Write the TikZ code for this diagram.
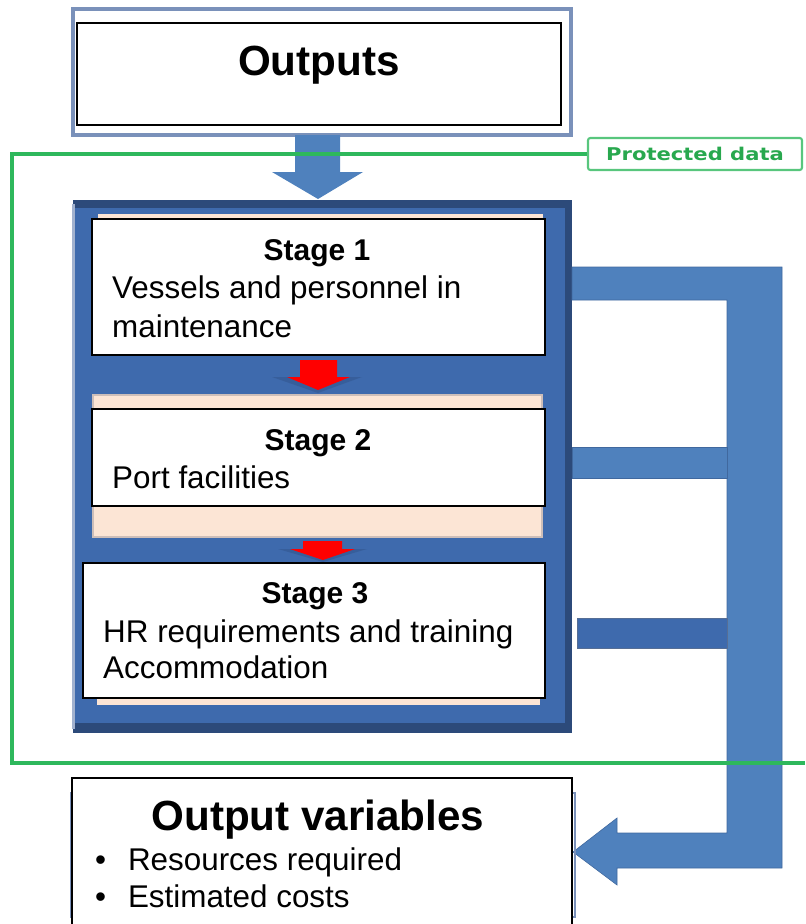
\documentclass[tikz,border=0pt]{standalone}
\usepackage{fontspec}
\setmainfont{Liberation Sans}
\newfontfamily\tagfont[FakeStretch=1.2]{DejaVu Sans}
\usetikzlibrary{positioning,fit,calc}
\definecolor{frameBlue}{RGB}{122, 145, 186}
\definecolor{boxBlue}{RGB}{62, 106, 173}
\definecolor{boxDark}{RGB}{44, 74, 122}
\definecolor{flowBlue}{RGB}{79, 129, 189}
\definecolor{flowEdge}{RGB}{64, 104, 158}
\definecolor{peach}{RGB}{252, 229, 213}
\definecolor{peachEdge}{RGB}{205, 190, 185}
\definecolor{protGreen}{RGB}{46, 184, 92}
\definecolor{protText}{RGB}{40, 168, 78}

\tikzset{
  frame/.style={draw=frameBlue, line width=3pt, fill=white, inner sep=0pt},
  stagebox/.style={draw=black, line width=1.3pt, fill=white, inner sep=0pt},
  bigtitle/.style={font=\fontsize{36}{40}\selectfont\bfseries, anchor=base, inner sep=0pt},
  stagetitle/.style={font=\fontsize{25.6}{30}\selectfont\bfseries, anchor=base, inner sep=0pt},
  stagetext/.style={font=\fontsize{26.8}{32}\selectfont, anchor=base west, inner sep=0pt},
  tagbox/.style={draw=protGreen!80, line width=1.8pt, fill=white, rounded corners=2pt, inner sep=0pt},
  flowbar/.style={fill=flowBlue, draw=flowEdge, line width=0.5pt},
  glow/.style={fill=boxDark, opacity=0.35},
}

\begin{document}
\begin{tikzpicture}[x=0.03cm, y=-0.03cm, line join=miter]
  \useasboundingbox (0,0) rectangle (805,924);

  % outputs box
  \node[frame, fit={(73,9) (571,135)}] (outframe) {};
  \node[stagebox, fit={(77,23) (561,125)}] (outputs) {};
  \node[bigtitle] (outtitle) at (319,75) {Outputs};

  % block arrow into the stages
  \fill[flowBlue] (295,135) -- (340,135) -- (340,172) -- (363,172) -- (318,199)
      -- (272,172) -- (295,172) -- cycle;

  % container of the three stages
  \fill[boxDark] (73,200) rectangle (572,733);
  \fill[boxBlue] (73,208) rectangle (565,723);
  \fill[frameBlue!70] (72,204) rectangle (75,729);

  % stage 1
  \fill[peach] (98,214) rectangle (543,225);
  \node[stagebox, fit={(92,219) (545,355)}] (stage1) {};
  \node[stagetitle] (s1title) at (317,260) {Stage 1};
  \node[stagetext] (s1a) at (112,298) {Vessels and personnel in};
  \node[stagetext] (s1b) at ($(s1a.base west)+(0,39)$) {maintenance};

  \fill[glow] (272,377) -- (362,377) -- (318,393) -- cycle;
  \fill[red] (300,360) -- (337,360) -- (337,377) -- (350,377) -- (318,390)
      -- (287,377) -- (300,377) -- cycle;

  % stage 2
  \filldraw[fill=peach, draw=peachEdge, line width=1pt] (93,395) rectangle (542,537);
  \node[stagebox, fit={(92,409) (545,506)}] (stage2) {};
  \node[stagetitle] (s2title) at (318,450) {Stage 2};
  \node[stagetext] (s2a) at (112,488) {Port facilities};

  \fill[glow] (278,549) -- (367,549) -- (323,562) -- cycle;
  \fill[red] (303,541) -- (342,541) -- (342,549) -- (355,549) -- (323,560)
      -- (290,549) -- (303,549) -- cycle;

  % stage 3
  \fill[peach] (97,690) rectangle (540,705);
  \node[stagebox, fit={(83,563) (545,698)}] (stage3) {};
  \node[stagetitle] (s3title) at (315,603) {Stage 3};
  \node[stagetext] (s3a) at (103,642) {HR requirements and training};
  \node[stagetext] (s3b) at ($(s3a.base west)+(0,36)$) {Accommodation};

  % feedback bars on the right, ending in an arrow
  \filldraw[flowbar] (572,267) -- (782,267) -- (782,868) -- (617,868) -- (617,885)
      -- (573,852) -- (617,818) -- (617,833) -- (727,833) -- (727,300)
      -- (572,300) -- cycle;
  \filldraw[flowbar] (572,447) rectangle (727,478);
  \filldraw[fill=boxBlue, draw=boxDark!80, line width=0.5pt] (577,618) rectangle (727,648);

  % protected data boundary
  \node[tagbox, fit={(588,138) (802,170)}] (tag) {};
  \node[font=\tagfont\fontsize{15}{18}\selectfont\bfseries, text=protText, anchor=base,
      inner sep=0pt] (tagtext) at (695,160) {Protected data};
  \draw[protGreen, line width=2.6pt] (tag.west) -| (12,763) -- (805,763);

  % output variables
  \draw[frameBlue, line width=2pt] (71,793) rectangle (575,917);
  \node[stagebox, fit={(72,778) (572,932)}] (outvars) {};
  \node[bigtitle] (vartitle) at (318,830) {Output variables};
  \node[stagetext] (var1) at (95,870) {\makebox[28pt][l]{\textbullet}Resources required};
  \node[stagetext] (var2) at ($(var1.base west)+(0,37)$) {\makebox[28pt][l]{\textbullet}Estimated costs};
\end{tikzpicture}
\end{document}
